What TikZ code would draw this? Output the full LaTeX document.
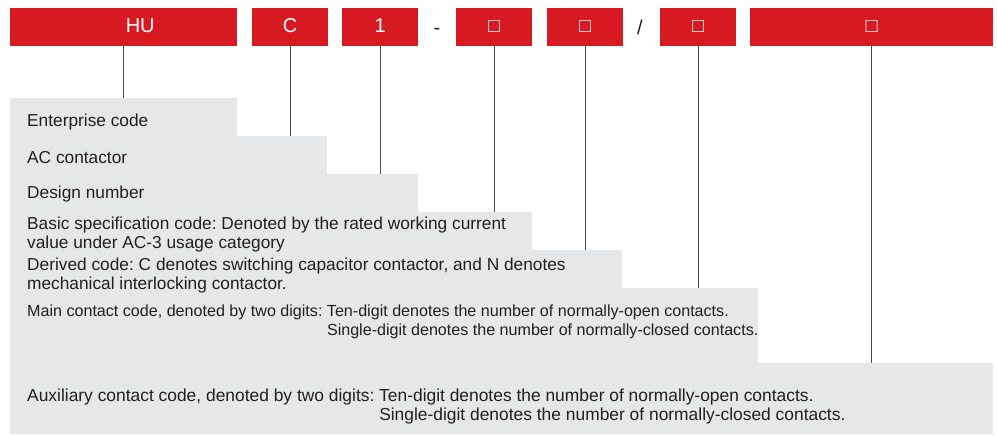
\documentclass[tikz,border=0pt]{standalone}
\usepackage{fontspec}
\setmainfont{Liberation Sans}
\frenchspacing
\definecolor{cred}{HTML}{D71A21}
\definecolor{cgray}{HTML}{E6E7E8}
\definecolor{ctext}{HTML}{231F20}
\begin{document}
\begin{tikzpicture}[x=1pt,y=-1pt,
  redbox/.style={fill=cred, text=white, inner sep=0pt, anchor=north west,
    minimum height=38pt, font=\fontsize{20}{24}\selectfont, text height=14pt, text depth=4pt},
  graybox/.style={fill=cgray, inner sep=0pt, anchor=north west},
  desc/.style={anchor=base west, inner sep=0pt, text=ctext, font=\fontsize{17.3}{19.5}\selectfont},
  descsmall/.style={desc, font=\fontsize{16.1}{19}\selectfont},
  descaux/.style={desc, font=\fontsize{17.4}{19}\selectfont},
  sepmark/.style={inner sep=0pt, text=ctext, font=\fontsize{20}{24}\selectfont},
  conn/.style={draw=black!70, line width=0.8pt}]
\useasboundingbox (0,0) rectangle (997,436);

% grey staircase
\node[graybox, minimum width=227pt, minimum height=39pt] (e1) at (10,98) {};
\node[graybox, minimum width=317pt, minimum height=39pt] (e2) at (10,136) {};
\node[graybox, minimum width=408pt, minimum height=39pt] (e3) at (10,174) {};
\node[graybox, minimum width=522pt, minimum height=39pt] (e4) at (10,212) {};
\node[graybox, minimum width=612pt, minimum height=39pt] (e5) at (10,250) {};
\node[graybox, minimum width=748pt, minimum height=76pt] (e6) at (10,288) {};
\node[graybox, minimum width=983pt, minimum height=71pt] (e7) at (10,363) {};

% red code boxes
\node[redbox, minimum width=227pt] (hu) at (10,8) {\hspace*{33pt}HU};
\node[redbox, minimum width=76pt] (c) at (252,8) {C};
\node[redbox, minimum width=76pt] (one) at (342,8) {1};
\node[redbox, minimum width=76pt] (b4) at (456,8) {□};
\node[redbox, minimum width=76pt] (b5) at (547,8) {□};
\node[redbox, minimum width=76pt] (b6) at (660,8) {□};
\node[redbox, minimum width=243pt] (b7) at (750,8) {□};
\node[sepmark] (dash) at (437,31) {-};
\node[sepmark] (slash) at (640,27) {/};

% connectors
\draw[conn] (hu.south) -- (hu.south |- e1.north);
\draw[conn] (c.south) -- (c.south |- e2.north);
\draw[conn] (one.south) -- (one.south |- e3.north);
\draw[conn] (b4.south) -- (b4.south |- e4.north);
\draw[conn] (b5.south) -- (b5.south |- e5.north);
\draw[conn] (b6.south) -- (b6.south |- e6.north);
\draw[conn] (b7.south) -- (b7.south |- e7.north);

% descriptions
\node[desc] (t1) at (27,127) {Enterprise code};
\node[desc] (t2) at (27,163) {AC contactor};
\node[desc] (t3) at (27,198) {Design number};
\node[desc] (t4) at (27,229) {\begin{tabular}[t]{@{}l@{}}Basic specification code: Denoted by the rated working current\\ value under AC-3 usage category\end{tabular}};
\node[desc] (t5) at (27,270) {\begin{tabular}[t]{@{}l@{}}Derived code: C denotes switching capacitor contactor, and N denotes\\ mechanical interlocking contactor.\end{tabular}};
\node[descsmall] (t6) at (27,316) {\begin{tabular}[t]{@{}l@{\ }l@{}}Main contact code, denoted by two digits: & Ten-digit denotes the number of normally-open contacts.\\ & Single-digit denotes the number of normally-closed contacts.\end{tabular}};
\node[descaux] (t7) at (27,401) {\begin{tabular}[t]{@{}l@{\ }l@{}}Auxiliary contact code, denoted by two digits: & Ten-digit denotes the number of normally-open contacts.\\ & Single-digit denotes the number of normally-closed contacts.\end{tabular}};
\end{tikzpicture}
\end{document}
